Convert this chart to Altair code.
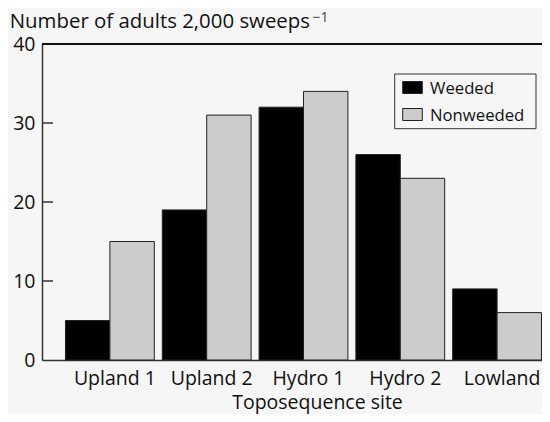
import altair as alt
import pandas as pd

sites = ["Upland 1", "Upland 2", "Hydro 1", "Hydro 2", "Lowland"]
treatments = ["Weeded", "Nonweeded"]
weeded = [5, 19, 32, 26, 9]
nonweeded = [15, 31, 34, 23, 6]
y_ticks = [0, 10, 20, 30, 40]
inner_ticks = [10, 20, 30]
y_title_main = "Number of adults 2,000 sweeps"
y_title_sup = "\u22121"
x_title = "Toposequence site"

rows = []
for s, w, n in zip(sites, weeded, nonweeded):
    rows.append({"site": s, "treatment": "Weeded", "value": w})
    rows.append({"site": s, "treatment": "Nonweeded", "value": n})
df = pd.DataFrame(rows)

W, H = 500, 316
FONT = "Open Sans"
FS = 19.5
TXT = "#111111"
AX = "#333333"
BG = "#f6f6f6"

yscale = alt.Scale(domain=[0, 40], nice=False, zero=True)
cscale = alt.Scale(domain=treatments, range=["#000000", "#cccccc"])
y_axis = alt.Axis(
    values=y_ticks, ticks=False, tickSize=0, grid=False, title=None,
    domainColor=AX, domainWidth=1.5,
    labelFont=FONT, labelFontSize=FS, labelColor=TXT,
    labelPadding=7, labelBaseline="middle",
)

bars = alt.Chart(df).mark_bar(stroke="#222222", strokeWidth=1).encode(
    x=alt.X(
        "site:N", sort=sites,
        scale=alt.Scale(paddingInner=0.0825, paddingOuter=0.1239, align=0.979),
        axis=alt.Axis(
            title=x_title, labelAngle=0, ticks=False, tickSize=0,
            domainColor=AX, domainWidth=1.5,
            labelFont=FONT, labelFontSize=FS, labelColor=TXT,
            labelBaseline="alphabetic", labelPadding=24, labelOffset=5,
            titleFont=FONT, titleFontSize=FS, titleFontWeight="normal",
            titleColor=TXT, titleX=275, titleY=48, titleBaseline="alphabetic",
            titleAlign="center", titleAnchor="start",
        ),
    ),
    xOffset=alt.XOffset("treatment:N", sort=treatments,
                        scale=alt.Scale(paddingInner=0, paddingOuter=0)),
    y=alt.Y("value:Q", scale=yscale, axis=y_axis),
    color=alt.Color("treatment:N", sort=treatments, scale=cscale, legend=None),
)

top_line = alt.Chart(pd.DataFrame({"value": [40]})).mark_rule(
    color="#111111", strokeWidth=1.8
).encode(y=alt.Y("value:Q", scale=yscale, axis=y_axis), x=alt.value(0), x2=alt.value(W))

ticks = alt.Chart(pd.DataFrame({"value": inner_ticks})).mark_rule(
    color=AX, strokeWidth=1.5
).encode(y=alt.Y("value:Q", scale=yscale, axis=y_axis), x=alt.value(0), x2=alt.value(11))

title_main = alt.Chart(pd.DataFrame({"s": [y_title_main]})).mark_text(
    align="right", baseline="alphabetic", font=FONT, fontSize=20.4, color=TXT
).encode(x=alt.value(268), y=alt.value(-16), text="s:N")

title_sup = alt.Chart(pd.DataFrame({"s": [y_title_sup]})).mark_text(
    align="left", baseline="alphabetic", font=FONT, fontSize=14, color="#444444"
).encode(x=alt.value(270.5), y=alt.value(-22), text="s:N")

# legend (box, swatches, labels)
LX0, LX1, LY0, LY1 = 352.7, 494, 30, 84.7
legend_box = alt.Chart(pd.DataFrame({"k": [0]})).mark_rect(
    fill=BG, stroke=AX, strokeWidth=1
).encode(x=alt.value(LX0), x2=alt.value(LX1), y=alt.value(LY0), y2=alt.value(LY1))

legend_layers = [legend_box]
row_centers = [43.5, 70.5]
for t, cy in zip(treatments, row_centers):
    d = pd.DataFrame({"treatment": [t]})
    legend_layers.append(
        alt.Chart(d).mark_rect(stroke="#222222", strokeWidth=1).encode(
            x=alt.value(360.7), x2=alt.value(380.3),
            y=alt.value(cy - 6), y2=alt.value(cy + 6),
            color=alt.Color("treatment:N", scale=cscale, legend=None),
        )
    )
    legend_layers.append(
        alt.Chart(d).mark_text(
            align="left", baseline="alphabetic", font=FONT, fontSize=16.7, color=TXT
        ).encode(x=alt.value(388), y=alt.value(cy + 6.5), text="treatment:N")
    )

chart = alt.layer(bars, top_line, ticks, title_main, title_sup, *legend_layers).properties(
    width=W, height=H,
    autosize=alt.AutoSizeParams(type="none"),
    padding={"left": 34, "top": 36, "right": 0, "bottom": 54},
    background=BG,
).configure_view(stroke=None)

chart.save("out.html", embed_options={"renderer": "svg", "actions": False})
